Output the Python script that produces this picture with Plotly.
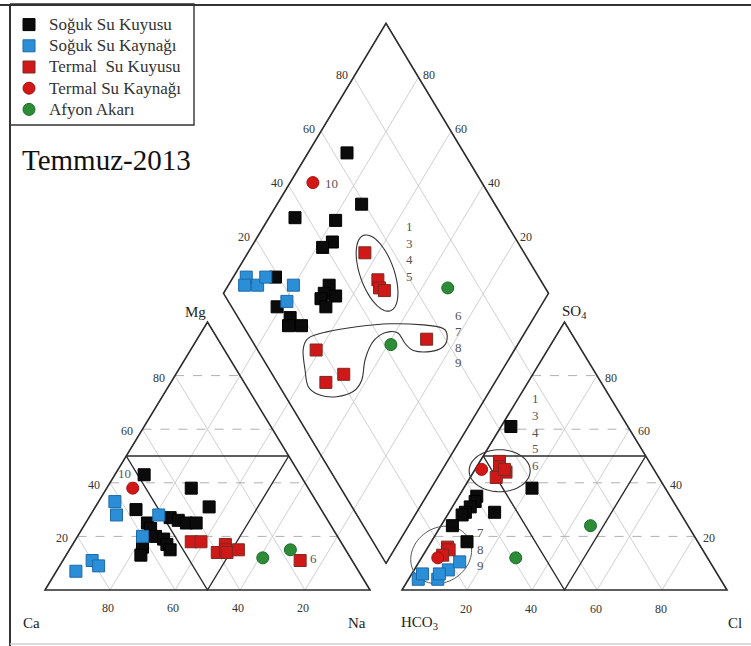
import math
import plotly.graph_objects as go

# ---------------------------------------------------------------
# Sample compositions (meq %)
# sk = Soğuk Su Kuyusu, sy = Soğuk Su Kaynağı, tk = Termal Su Kuyusu,
# ty = Termal Su Kaynağı, af = Afyon Akarı
# ---------------------------------------------------------------

# Cation triangle: Mg and Na+K (Ca is the remainder)
cat_mg_sk = [43, 38, 31, 30, 27, 26, 25, 25, 25, 23, 20, 19, 17, 15, 16, 13]
cat_na_sk = [9, 26, 35, 13, 25, 28, 31, 34, 19, 21, 24, 27, 29, 31, 22, 23]
cat_mg_sy = [33, 28, 28, 20, 11, 9, 7]
cat_na_sy = [5, 8, 21, 20, 9, 12, 6]
cat_mg_tk = [18, 18, 17, 14, 15, 14, 15, 11]
cat_na_tk = [36, 39, 47, 46, 48, 49, 52, 73]
cat_mg_ty = [38]
cat_na_ty = [8]
cat_mg_af = [12, 15]
cat_na_af = [61, 68]

# Anion triangle: SO4 and Cl (HCO3 is the remainder)
an_so4_sk = [61, 38, 35, 33, 31, 29, 28, 24, 29, 18]
an_cl_sk = [3, 21, 5.5, 6, 5.5, 5, 4.5, 3.5, 14, 11]
an_so4_sy = [4, 4, 7.5, 10.5, 6, 6]
an_cl_sy = [3, 9, 10.5, 12.5, 3.3, 8.5]
an_so4_tk = [48, 46, 44, 42, 45, 16, 15, 13]
an_cl_tk = [6, 7, 10, 8, 9, 6, 7, 6]
an_so4_ty = [45, 12]
an_cl_ty = [2, 5]
an_so4_af = [24, 12]
an_cl_af = [46, 29]

# Central diamond: Na+K and SO4+Cl
dm_na_sk = [12, 26, 8, 21, 24, 22, 31, 31, 35, 31, 34, 13, 19, 25, 30, 26]
dm_scl_sk = [64, 59, 36, 48, 43, 39, 34, 31, 34, 29, 29, 19, 14, 16, 18, 14]
dm_na_sy = [4, 5, 9, 10, 20, 21]
dm_scl_sy = [10, 8, 12, 16, 23, 18]
dm_na_tk = [36, 45, 47, 49, 39, 52, 48, 71]
dm_scl_tk = [51, 50, 49, 50, 18, 22, 15, 54]
dm_na_ty = [7]
dm_scl_ty = [48]
dm_na_af = [68, 61]
dm_scl_af = [70, 42]

# Outline of the 6-7-8-9 group in the diamond (Na+K %, SO4+Cl %)
grp2_na = [35, 34.4, 38.9, 47.2, 56.9, 67.3, 74.1, 76.9, 77.5, 74.3, 69, 65.1,
           61.2, 58.3, 55.9, 54.9, 55.9, 58.6, 58.1, 54, 48.5, 43.4, 39.3]
grp2_scl = [14, 17.8, 24.6, 34.8, 45.6, 55.6, 61.1, 60.8, 57.7, 52.7, 47.8, 46.6,
            46.4, 44.1, 40.4, 36.3, 31.2, 26.5, 21.7, 15.7, 10.8, 8.8, 10.9]

# ---------------------------------------------------------------
# Diagram geometry (1 unit = 1 px, y upwards)
# ---------------------------------------------------------------
W, H = 751, 646
SIDE = 325.0
TRI_H = 268.0
DIA_H = 270.0
BASE_Y = 56.0
CAT_X0 = 45.0
AN_X0 = 402.0
DIA_B = (386.0, 82.7)
DIA_L = (DIA_B[0] - SIDE / 2, DIA_B[1] + DIA_H)
DIA_T = (DIA_B[0], DIA_B[1] + 2 * DIA_H)
DIA_R = (DIA_B[0] + SIDE / 2, DIA_B[1] + DIA_H)

SERIF = "Liberation Serif"


def cat_pt(mg, na):
    m, n = mg / 100.0, na / 100.0
    return CAT_X0 + SIDE * n + SIDE / 2 * m, BASE_Y + TRI_H * m


def an_pt(so4, cl):
    s, c = so4 / 100.0, cl / 100.0
    return AN_X0 + SIDE * c + SIDE / 2 * s, BASE_Y + TRI_H * s


def dia_pt(na, scl):
    a, b = na / 100.0, scl / 100.0
    return DIA_L[0] + SIDE / 2 * (a + b), DIA_L[1] + DIA_H * (b - a)


def project(fn, u, v):
    pts = [fn(p, q) for p, q in zip(u, v)]
    return [p[0] for p in pts], [p[1] for p in pts]


def lerp(p, q, t):
    return (p[0] + (q[0] - p[0]) * t, p[1] + (q[1] - p[1]) * t)


def line_path(pts, close=False):
    s = "M " + " L ".join(f"{x:.2f},{y:.2f}" for x, y in pts)
    return s + (" Z" if close else "")


def smooth_closed_path(pts):
    n = len(pts)
    s = f"M {pts[0][0]:.2f},{pts[0][1]:.2f}"
    for i in range(n):
        p0, p1 = pts[i - 1], pts[i]
        p2, p3 = pts[(i + 1) % n], pts[(i + 2) % n]
        c1 = (p1[0] + (p2[0] - p0[0]) / 6, p1[1] + (p2[1] - p0[1]) / 6)
        c2 = (p2[0] - (p3[0] - p1[0]) / 6, p2[1] - (p3[1] - p1[1]) / 6)
        s += f" C {c1[0]:.2f},{c1[1]:.2f} {c2[0]:.2f},{c2[1]:.2f} {p2[0]:.2f},{p2[1]:.2f}"
    return s + " Z"


def ellipse_path(cx, cy, ra, rb, ang_deg, n=72):
    a = math.radians(ang_deg)
    pts = []
    for k in range(n):
        t = 2 * math.pi * k / n
        ex, ey = ra * math.cos(t), rb * math.sin(t)
        pts.append((cx + ex * math.cos(a) - ey * math.sin(a),
                    cy + ex * math.sin(a) + ey * math.cos(a)))
    return line_path(pts, close=True)


shapes = []


def add_path(path, color="#222", width=1.5, dash=None):
    ln = dict(color=color, width=width)
    if dash:
        ln["dash"] = dash
    shapes.append(dict(type="path", xref="x", yref="y", path=path, line=ln,
                       layer="below"))


GRID = "#c4c4c4"
DASH = "#b0b0b0"
levels = [0.2, 0.4, 0.6, 0.8]

# --- grid lines ---
for v in levels:
    # cation: constant Ca (parallel to Na-Mg side)
    add_path(line_path([(CAT_X0 + SIDE * (1 - v), BASE_Y),
                        (CAT_X0 + SIDE / 2 * (1 - v), BASE_Y + TRI_H * (1 - v))]),
             GRID, 0.8)
    # cation: constant Na+K, continued through the diamond
    add_path(line_path([(CAT_X0 + SIDE * v, BASE_Y),
                        (CAT_X0 + SIDE * v + SIDE / 2 * (1 - v), BASE_Y + TRI_H * (1 - v)),
                        lerp(DIA_T, DIA_R, v)]), GRID, 0.8)
    # cation: constant Mg (dashed)
    add_path(line_path([(CAT_X0 + SIDE / 2 * v, BASE_Y + TRI_H * v),
                        (CAT_X0 + SIDE - SIDE / 2 * v, BASE_Y + TRI_H * v)]),
             DASH, 1.0, "dash")
    # anion: constant Cl (parallel to HCO3-SO4 side)
    add_path(line_path([(AN_X0 + SIDE * v, BASE_Y),
                        (AN_X0 + SIDE * v + SIDE / 2 * (1 - v), BASE_Y + TRI_H * (1 - v))]),
             GRID, 0.8)
    # anion: constant HCO3, continued through the diamond
    b = v
    add_path(line_path([(AN_X0 + SIDE * b, BASE_Y),
                        (AN_X0 + SIDE / 2 * b, BASE_Y + TRI_H * b),
                        lerp(DIA_L, DIA_T, b)]), GRID, 0.8)
    # anion: constant SO4 (dashed)
    add_path(line_path([(AN_X0 + SIDE / 2 * v, BASE_Y + TRI_H * v),
                        (AN_X0 + SIDE - SIDE / 2 * v, BASE_Y + TRI_H * v)]),
             DASH, 1.0, "dash")

# --- outlines and facies boundaries ---
EDGE = "#2a2a2a"
cat_apex = (CAT_X0 + SIDE / 2, BASE_Y + TRI_H)
an_apex = (AN_X0 + SIDE / 2, BASE_Y + TRI_H)
add_path(line_path([(CAT_X0, BASE_Y), (CAT_X0 + SIDE, BASE_Y), cat_apex], True), EDGE, 1.6)
add_path(line_path([(AN_X0, BASE_Y), (AN_X0 + SIDE, BASE_Y), an_apex], True), EDGE, 1.6)
add_path(line_path([DIA_B, DIA_R, DIA_T, DIA_L], True), EDGE, 1.6)

half_y = BASE_Y + TRI_H / 2
add_path(line_path([(CAT_X0 + SIDE / 4, half_y), (CAT_X0 + SIDE * 3 / 4, half_y)]), EDGE, 1.4)
add_path(line_path([(CAT_X0 + SIDE / 4, half_y), (CAT_X0 + SIDE / 2, BASE_Y),
                    (CAT_X0 + SIDE * 3 / 4, half_y)]), EDGE, 1.4)
add_path(line_path([(AN_X0 + SIDE / 4, half_y), (AN_X0 + SIDE * 3 / 4, half_y)]), EDGE, 1.4)
add_path(line_path([(AN_X0 + SIDE / 4, half_y), (AN_X0 + SIDE / 2, BASE_Y),
                    (AN_X0 + SIDE * 3 / 4, half_y)]), EDGE, 1.4)

# --- sample group outlines ---
cx, cy = dia_pt(43.5, 51)
add_path(ellipse_path(cx, cy, 40, 17, -70.4), "#333", 1.1)
add_path(smooth_closed_path([dia_pt(a, b) for a, b in zip(grp2_na, grp2_scl)]), "#333", 1.1)
cx, cy = an_pt(44.5, 7.8)
add_path(ellipse_path(cx, cy, 30.5, 21, 0), "#333", 1.1)
cx, cy = an_pt(13.1, 5.5)
add_path(ellipse_path(cx, cy, 32, 27, 35), "#555", 1.0)

# --- frame and legend box ---
add_path(line_path([(0, H - 5), (W, H - 5)]), "#333", 2)
add_path(line_path([(10, H - 5), (10, 0)]), "#333", 2)
add_path(line_path([(10, 2), (W, 2)]), "#cfcfcf", 1.5)
add_path(line_path([(10, H - 4), (194, H - 4), (194, H - 125), (10, H - 125)]), "#333", 1.4)

# ---------------------------------------------------------------
# Sample markers
# ---------------------------------------------------------------
groups = [
    ("Soğuk Su Kuyusu", "square", "#0b0b0b", "#000000",
     (cat_mg_sk, cat_na_sk), (an_so4_sk, an_cl_sk), (dm_na_sk, dm_scl_sk)),
    ("Soğuk Su Kaynağı", "square", "#2b8fd8", "#1d69a8",
     (cat_mg_sy, cat_na_sy), (an_so4_sy, an_cl_sy), (dm_na_sy, dm_scl_sy)),
    ("Termal  Su Kuyusu", "square", "#d01818", "#7c2a20",
     (cat_mg_tk, cat_na_tk), (an_so4_tk, an_cl_tk), (dm_na_tk, dm_scl_tk)),
    ("Termal Su Kaynağı", "circle", "#d31616", "#a01212",
     (cat_mg_ty, cat_na_ty), (an_so4_ty, an_cl_ty), (dm_na_ty, dm_scl_ty)),
    ("Afyon Akarı", "circle", "#2d8c37", "#1e6a28",
     (cat_mg_af, cat_na_af), (an_so4_af, an_cl_af), (dm_na_af, dm_scl_af)),
]

LEG_STYLE = "font-size:17px;font-family:'Liberation Serif',serif"

fig = go.Figure()
for name, sym, fill, edge, cat, an, dm in groups:
    label = name.replace("  ", "\u00a0 ")
    for k, (fn, (u, v)) in enumerate([(cat_pt, cat), (an_pt, an), (dia_pt, dm)]):
        xs, ys = project(fn, u, v)
        fig.add_trace(go.Scatter(
            x=xs, y=ys, mode="markers",
            name=f'<span style="{LEG_STYLE}">{label}</span>',
            legendgroup=name, showlegend=(k == 0), hoverinfo="skip",
            marker=dict(symbol=sym, size=12, color=fill,
                        line=dict(color=edge, width=1)),
        ))

# ---------------------------------------------------------------
# Text
# ---------------------------------------------------------------
ann = []


def text(x, y, s, size=12, color="#333", xanchor="center", yanchor="middle", xshift=0, yshift=0):
    ann.append(dict(x=x, y=y, xref="x", yref="y", text=s, showarrow=False,
                    xanchor=xanchor, yanchor=yanchor, xshift=xshift, yshift=yshift,
                    font=dict(family=SERIF, size=size, color=color)))


for v in levels:
    lab = str(int(round(v * 100)))
    # cation Mg axis (left side)
    x, y = CAT_X0 + SIDE / 2 * v, BASE_Y + TRI_H * v
    text(x, y, lab, xanchor="right", xshift=-8, yshift=-2)
    # cation Ca axis (base)
    text(CAT_X0 + SIDE * v, BASE_Y, str(int(round((1 - v) * 100))), yanchor="top",
         xshift=-2, yshift=-9)
    # anion Cl axis (base)
    text(AN_X0 + SIDE * v, BASE_Y, lab, yanchor="top", xshift=-1, yshift=-10)
    # anion SO4 axis (right side)
    x, y = AN_X0 + SIDE - SIDE / 2 * v, BASE_Y + TRI_H * v
    text(x, y, lab, xanchor="left", xshift=6, yshift=-2)
    # diamond upper-left side (SO4+Cl)
    x, y = lerp(DIA_L, DIA_T, v)
    text(x, y, lab, xanchor="right", xshift=-4, yshift=2)
    # diamond upper-right side (Ca+Mg)
    x, y = lerp(DIA_T, DIA_R, 1 - v)
    text(x, y, lab, xanchor="left", xshift=2, yshift=2)

# component labels
text(31, H - 623, "Ca", 15, "#222")
text(357, H - 623, "Na", 15, "#222")
text(195, H - 312, "Mg", 15, "#222")
text(419, H - 623, "HCO<sub>3</sub>", 15, "#222")
text(735, H - 623, "Cl", 15, "#222")
text(574, H - 312, "SO<sub>4</sub>", 15, "#222")

text(20, H - 160, "Temmuz-2013", 29, "#111", xanchor="left")

# sample numbers
NUM = "#555"
for s, (x, y) in [("10", (124, 473)), ("6", (313, 558)),
                  ("10", (331, 183)),
                  ("1", (409, 226)), ("3", (409, 243)), ("4", (409, 259)), ("5", (409, 276)),
                  ("6", (458, 315)), ("7", (458, 331)), ("8", (458, 347)), ("9", (458, 362)),
                  ("1", (535, 398)), ("3", (535, 415)), ("4", (535, 432)), ("5", (535, 448)),
                  ("6", (535, 465)),
                  ("7", (480, 532)), ("8", (480, 549)), ("9", (480, 565))]:
    text(x, H - y, s, 13, NUM)

fig.update_layout(
    width=W, height=H,
    margin=dict(l=0, r=0, t=0, b=0),
    paper_bgcolor="white", plot_bgcolor="white",
    xaxis=dict(range=[0, W], visible=False, fixedrange=True),
    yaxis=dict(range=[0, H], visible=False, fixedrange=True),
    shapes=shapes, annotations=ann,
    showlegend=True,
    legend=dict(x=9 / W, y=1 - 9 / H, xanchor="left", yanchor="top",
                bgcolor="rgba(0,0,0,0)", borderwidth=0, tracegroupgap=0,
                font=dict(family=SERIF, size=14, color="#333")),
)

fig.write_html("out.html")
